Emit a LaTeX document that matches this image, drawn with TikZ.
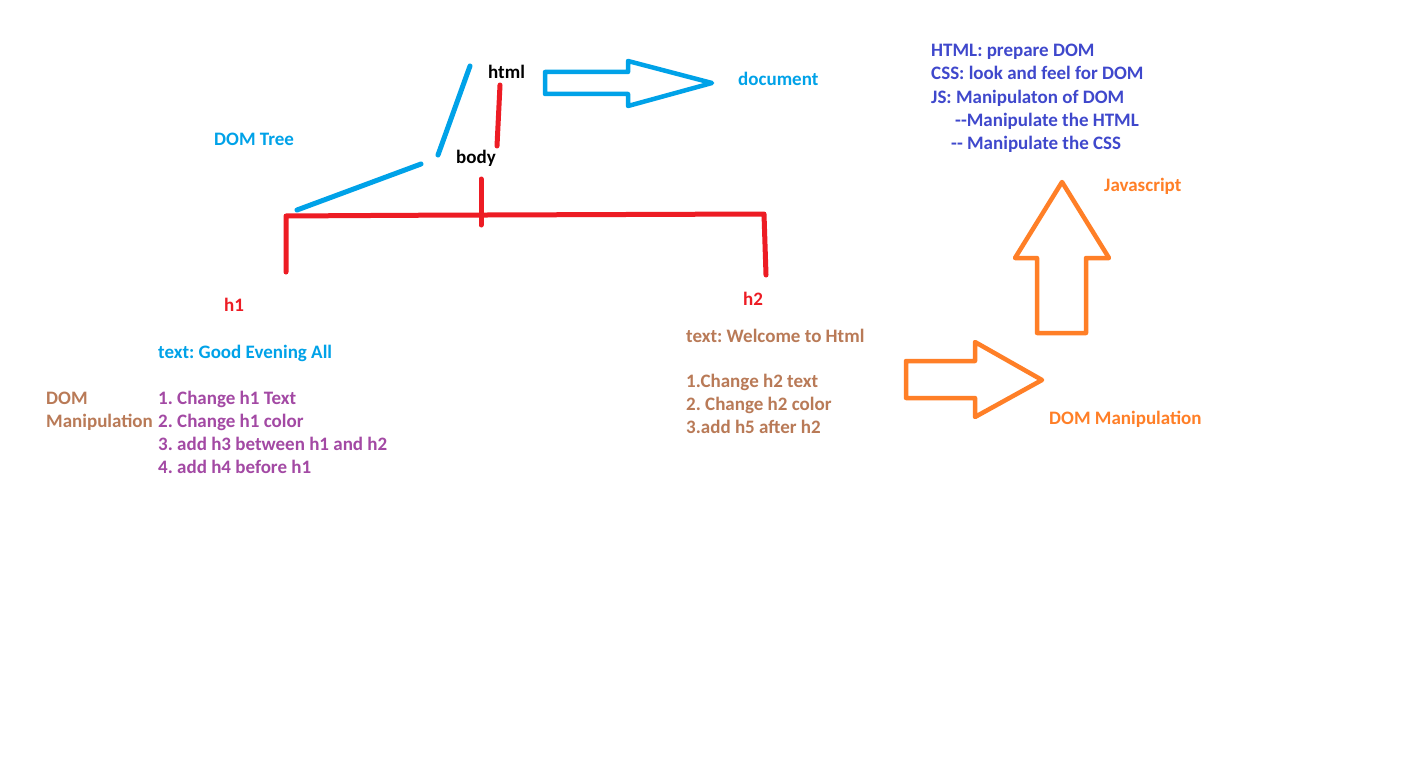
\documentclass[tikz,border=0pt]{standalone}
\usepackage{fontspec}
\setmainfont{Carlito}
\frenchspacing
\definecolor{pblue}{HTML}{00A2E8}
\definecolor{pred}{HTML}{ED1C24}
\definecolor{porange}{HTML}{FF7F27}
\definecolor{pbrown}{HTML}{B97A57}
\definecolor{ppurple}{HTML}{A349A4}
\definecolor{pindigo}{HTML}{3F48CC}
\tikzset{
  txt/.style={anchor=base west, inner sep=0pt, font=\fontsize{19}{23}\selectfont\bfseries},
  redline/.style={draw=pred, line width=5pt, line cap=round, line join=round},
  blueline/.style={draw=pblue, line width=5pt, line cap=round},
  bluearrow/.style={draw=pblue, line width=4.5pt, line join=round},
  orangearrow/.style={draw=porange, line width=4.5pt, line join=round},
}
\begin{document}
\begin{tikzpicture}[x=1pt,y=-1pt]
\useasboundingbox[fill=white] (0,0) rectangle (1412,765);

% tree labels
\node[txt] (html) at (488,79) {html};
\node[txt] (body) at (456,163) {body};
\node[txt, text=pblue] (domtree) at (214,145) {DOM Tree};
\node[txt, text=pblue] (document) at (738,86) {document};
\node[txt, text=pred] (h1) at (224,311) {h1};
\node[txt, text=pred] (h2) at (743,305) {h2};

% tree coordinates
\coordinate (b1a) at (470,66);
\coordinate (b1b) at (438,155);
\coordinate (b2a) at (421,164);
\coordinate (b2b) at (297,210);
\coordinate (r1a) at (500,85);
\coordinate (r1b) at (497,146);
\coordinate (r2a) at (481,179);
\coordinate (r2b) at (481,225);
\coordinate (hl) at (286,216);
\coordinate (hm) at (404,215.3);
\coordinate (hr) at (764,214);
\coordinate (lb) at (286,272);
\coordinate (rb) at (766,275);

\draw[blueline] (b1a) -- (b1b);
\draw[blueline] (b2a) -- (b2b);
\draw[redline] (r1a) -- (r1b);
\draw[redline] (r2a) -- (r2b);
\draw[redline] (lb) -- (hl) -- (hm) -- (hr) -- (rb);

% blue block arrow
\draw[bluearrow] (545,72) -- (628,72) -- (628,61) -- (712,83) -- (628,106) -- (628,94) -- (545,94) -- cycle;

% orange up arrow
\draw[orangearrow] (1062,182) -- (1109,258) -- (1086,258) -- (1086,333) -- (1037,333) -- (1037,258) -- (1015,258) -- cycle;
% orange right arrow
\draw[orangearrow] (906,361) -- (975,361) -- (975,342) -- (1042,380) -- (975,417) -- (975,398) -- (906,398) -- cycle;

\node[txt, text=porange] (js) at (1104,191) {Javascript};
\node[txt, text=porange] (domm) at (1049,424) {DOM Manipulation};

% top-right block
\node[txt, text=pindigo] (t1) at (931,57) {HTML: prepare DOM};
\node[txt, text=pindigo] (t2) at (931,80) {CSS: look and feel for DOM};
\node[txt, text=pindigo] (t3) at (931,103) {JS: Manipulaton of DOM};
\node[txt, text=pindigo] (t4) at (955,126) {{-}{-}Manipulate the HTML};
\node[txt, text=pindigo] (t5) at (951,149) {{-}{-} Manipulate the CSS};

% left block
\node[txt, text=pblue] (g1) at (158,358) {text: Good Evening All};
\node[txt, text=pbrown] (d1) at (46,404) {DOM};
\node[txt, text=pbrown] (d2) at (46,427) {Manipulation};
\node[txt, text=ppurple] (l1) at (158,404) {1. Change h1 Text};
\node[txt, text=ppurple] (l2) at (158,427) {2. Change h1 color};
\node[txt, text=ppurple] (l3) at (158,450) {3. add h3 between h1 and h2};
\node[txt, text=ppurple] (l4) at (158,473) {4. add h4 before h1};

% right block
\node[txt, text=pbrown] (w1) at (686,342) {text: Welcome to Html};
\node[txt, text=pbrown] (w2) at (686,387) {1.Change h2 text};
\node[txt, text=pbrown] (w3) at (686,410) {2. Change h2 color};
\node[txt, text=pbrown] (w4) at (686,433) {3.add h5 after h2};
\end{tikzpicture}
\end{document}
